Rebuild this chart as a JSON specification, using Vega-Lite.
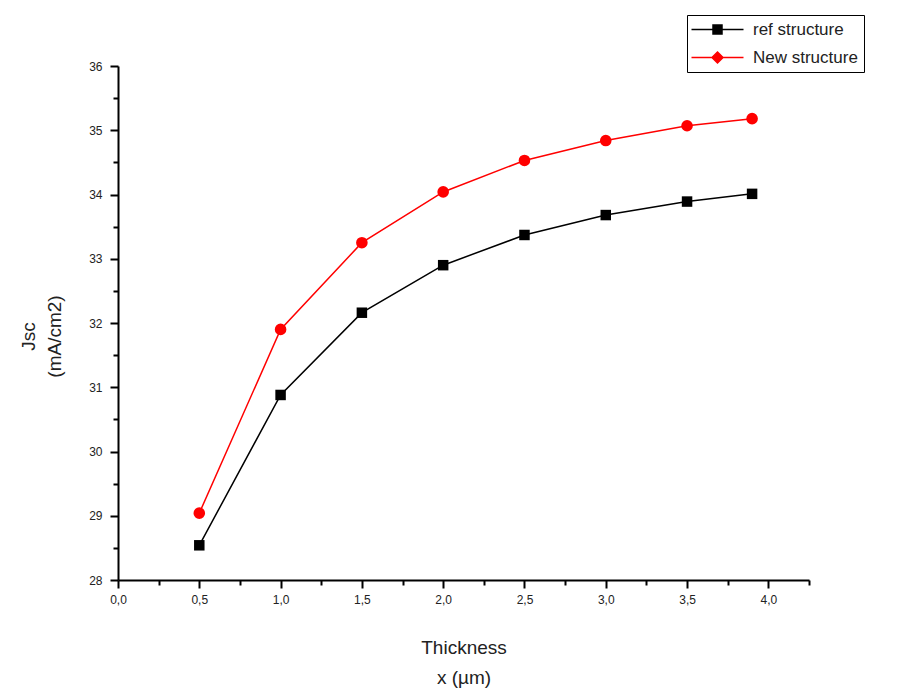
{
  "$schema": "https://vega.github.io/schema/vega-lite/v6.json",
  "autosize": "none",
  "width": 691,
  "height": 514,
  "padding": {"left": 118, "top": 66, "right": 93, "bottom": 109},
  "background": "white",
  "config": {
    "view": {"stroke": null},
    "font": "Liberation Sans",
    "axis": {"grid": false, "domainColor": "black", "domainWidth": 2, "tickColor": "black", "tickWidth": 2, "labelColor": "#222", "labelFontSize": 12, "titleColor": "#222", "titleFontWeight": "normal"},
    "legend": {
      "title": null,
      "orient": "none",
      "legendX": 569,
      "legendY": -51,
      "strokeColor": "black",
      "padding": 6,
      "symbolSize": 100,
      "symbolOpacity": 1,
      "symbolStrokeWidth": 1.5,
      "labelFontSize": 17,
      "labelColor": "#222",
      "labelOffset": 43,
      "rowPadding": 10
    }
  },
  "data": {"values": [
    {"x": 0.5, "y": 28.54, "series": "ref structure"},
    {"x": 1.0, "y": 30.88, "series": "ref structure"},
    {"x": 1.5, "y": 32.16, "series": "ref structure"},
    {"x": 2.0, "y": 32.9, "series": "ref structure"},
    {"x": 2.5, "y": 33.37, "series": "ref structure"},
    {"x": 3.0, "y": 33.68, "series": "ref structure"},
    {"x": 3.5, "y": 33.89, "series": "ref structure"},
    {"x": 3.9, "y": 34.01, "series": "ref structure"},
    {"x": 0.5, "y": 29.04, "series": "New structure"},
    {"x": 1.0, "y": 31.9, "series": "New structure"},
    {"x": 1.5, "y": 33.25, "series": "New structure"},
    {"x": 2.0, "y": 34.04, "series": "New structure"},
    {"x": 2.5, "y": 34.53, "series": "New structure"},
    {"x": 3.0, "y": 34.84, "series": "New structure"},
    {"x": 3.5, "y": 35.07, "series": "New structure"},
    {"x": 3.9, "y": 35.18, "series": "New structure"}
  ]},
  "encoding": {
    "x": {
      "field": "x", "type": "quantitative",
      "scale": {"domain": [0, 4.25], "nice": false, "zero": false},
      "axis": {
        "values": [0, 0.25, 0.5, 0.75, 1, 1.25, 1.5, 1.75, 2, 2.25, 2.5, 2.75, 3, 3.25, 3.5, 3.75, 4, 4.25],
        "labelExpr": "abs(round(datum.value*2) - datum.value*2) < 0.01 ? replace(format(datum.value, '.1f'), '.', ',') : ''",
        "tickSize": {"condition": {"test": "abs(round(datum.value*2) - datum.value*2) < 0.01", "value": 8}, "value": 5},
        "labelPadding": 6,
        "labelFlush": false,
        "labelOverlap": false,
        "title": ["Thickness", "x (µm)"],
        "titleFontSize": 19,
        "titleLineHeight": 30,
        "titlePadding": 33
      }
    },
    "y": {
      "field": "y", "type": "quantitative",
      "scale": {"domain": [28, 36], "nice": false, "zero": false},
      "axis": {
        "values": [28, 28.5, 29, 29.5, 30, 30.5, 31, 31.5, 32, 32.5, 33, 33.5, 34, 34.5, 35, 35.5, 36],
        "labelExpr": "datum.value % 1 == 0 ? format(datum.value, 'd') : ''",
        "tickSize": {"condition": {"test": "datum.value % 1 == 0", "value": 8}, "value": 5},
        "labelPadding": 8,
        "labelFlush": false,
        "labelOverlap": false,
        "title": ["Jsc", "(mA/cm2)"],
        "titleFontSize": 19,
        "titleLineHeight": 26,
        "titlePadding": 24,
        "titleY": 270
      }
    }
  },
  "layer": [
    {
      "mark": {"type": "line", "strokeWidth": 1.5},
      "encoding": {
        "color": {"field": "series", "type": "nominal", "scale": {"domain": ["ref structure", "New structure"], "range": ["black", "red"]}, "legend": null}
      }
    },
    {
      "mark": {"type": "point", "filled": true, "opacity": 1},
      "encoding": {
        "color": {"field": "series", "type": "nominal", "scale": {"domain": ["ref structure", "New structure"], "range": ["black", "red"]}, "legend": null},
        "shape": {"field": "series", "type": "nominal", "scale": {"domain": ["ref structure", "New structure"], "range": ["square", "circle"]}, "legend": null},
        "size": {"field": "series", "type": "nominal", "scale": {"domain": ["ref structure", "New structure"], "range": [110, 135]}, "legend": null}
      }
    },
    {
      "mark": {"type": "point", "filled": false, "opacity": 0, "size": 100, "strokeWidth": 1.5},
      "encoding": {
        "shape": {
          "field": "series", "type": "nominal",
          "scale": {"domain": ["ref structure", "New structure"], "range": ["M-2,0H8.4M2.3,-0.9H4.1V0.9H2.3Z", "M-2,0H8.4M3.2,-1.1L4.3,0L3.2,1.1L2.1,0Z"]}
        },
        "fill": {"field": "series", "type": "nominal", "scale": {"domain": ["ref structure", "New structure"], "range": ["black", "red"]}},
        "stroke": {"field": "series", "type": "nominal", "scale": {"domain": ["ref structure", "New structure"], "range": ["black", "red"]}}
      }
    }
  ],
  "resolve": {
    "scale": {"shape": "independent", "size": "independent", "fill": "independent", "stroke": "independent", "color": "independent"},
    "legend": {"shape": "independent", "fill": "independent", "stroke": "independent"}
  }
}
